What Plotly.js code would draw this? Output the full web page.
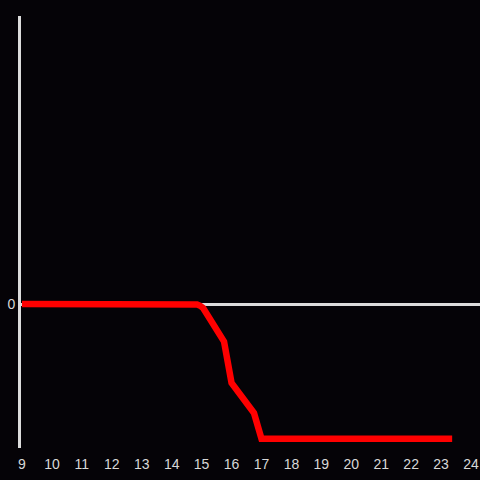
<!DOCTYPE html>
<html>
<head>
<meta charset="utf-8">
<script src="https://cdn.plot.ly/plotly-3.0.1.min.js"></script>
<style>html,body{margin:0;padding:0;background:#050307;}</style>
</head>
<body>
<div id="chart" style="width:480px;height:480px;"></div>
<script>
const hours = [9, 10, 11, 12, 13, 14, 14.7, 14.85, 14.95, 15.05, 15.75, 16.0, 16.75, 17.0, 18, 19, 20, 21, 22, 23, 23.37];
const values = [0, 0, 0, 0, 0, 0, 0, -0.004, -0.013, -0.03, -0.279, -0.586, -0.809, -1, -1, -1, -1, -1, -1, -1, -1];
const xTicks = [9, 10, 11, 12, 13, 14, 15, 16, 17, 18, 19, 20, 21, 22, 23, 24];
const yTicks = [0];

const trace = {
  x: hours,
  y: values,
  type: 'scatter',
  mode: 'lines',
  line: {color: '#ff0000', width: 6.5},
  hoverinfo: 'skip'
};

const layout = {
  width: 480,
  height: 480,
  paper_bgcolor: '#050307',
  plot_bgcolor: '#050307',
  margin: {l: 21, r: 0, t: 16, b: 32},
  showlegend: false,
  font: {family: '"Liberation Sans", Arial, sans-serif', size: 14, color: '#d8d8d8'},
  xaxis: {
    range: [9 - 1 / 30, 9 + 459 / 30],
    tickvals: xTicks,
    ticktext: xTicks.map(String),
    showgrid: false,
    zeroline: false,
    showline: false,
    ticks: 'outside',
    ticklen: 3,
    tickcolor: 'rgba(0,0,0,0)',
    tickfont: {color: '#d8d8d8', size: 14}
  },
  yaxis: {
    range: [-144 / 134.7, 288 / 134.7],
    tickvals: yTicks,
    ticktext: ['0'],
    showgrid: false,
    zeroline: true,
    zerolinecolor: '#dcdcdc',
    zerolinewidth: 3,
    showline: true,
    linecolor: '#dcdcdc',
    linewidth: 3,
    ticks: '',
    tickfont: {color: '#d8d8d8', size: 14}
  }
};

Plotly.newPlot('chart', [trace], layout, {displayModeBar: false, staticPlot: true});
</script>
</body>
</html>
